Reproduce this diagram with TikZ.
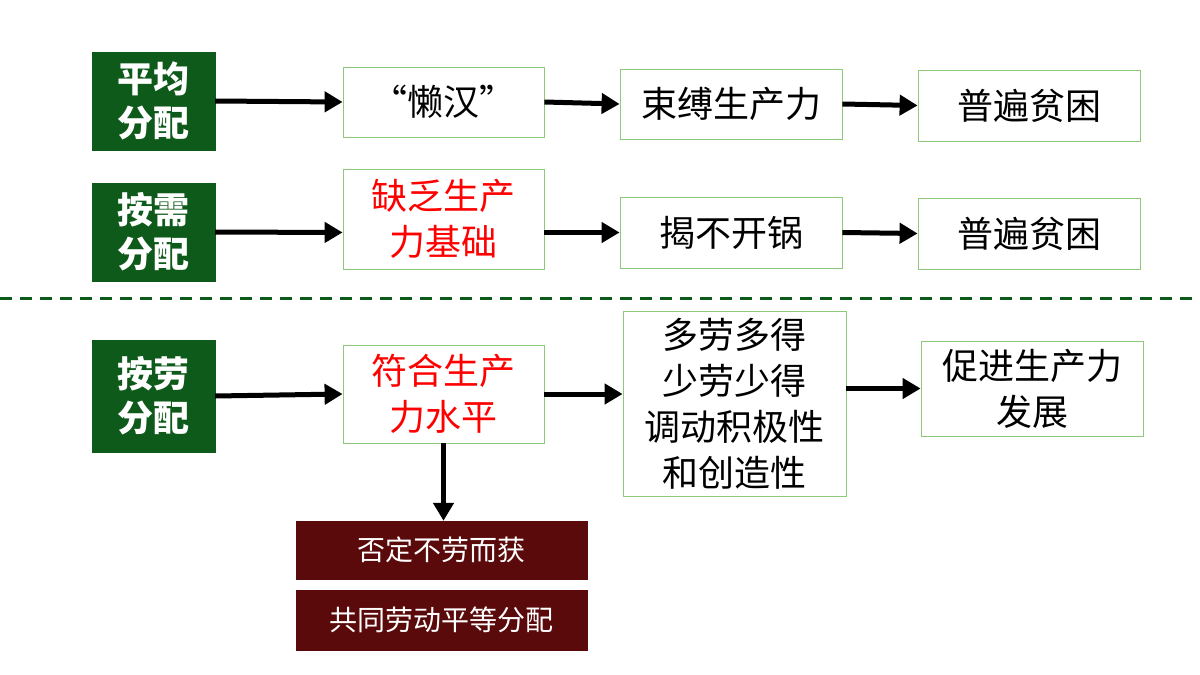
\documentclass[tikz,border=0pt]{standalone}
\usepackage{fontspec}
\setmainfont{Noto Sans CJK SC}
\usetikzlibrary{arrows.meta}
\definecolor{dg}{HTML}{0E5A1A}
\definecolor{lg}{HTML}{8CC97A}
\definecolor{dr}{HTML}{5A0A0A}
\begin{document}
\begin{tikzpicture}[x=1pt,y=-1pt,
 gbox/.style={draw=dg,fill=dg,text=white,font=\bfseries\fontsize{36}{44}\selectfont,align=center,inner sep=0},
 wbox/.style={draw=lg,line width=0.8pt,fill=white,font=\fontsize{36}{46}\selectfont,align=center,inner sep=0},
 rbox/.style={draw=dr,fill=dr,text=white,font=\fontsize{28}{32}\selectfont,inner sep=0},
 arr/.style={line width=5pt,-{Triangle[length=18pt,width=20pt]}}]
\useasboundingbox (0,0) rectangle (1200,675);
\newcommand\bx[6]{\node[#1,minimum width=#4-#2,minimum height=#5-#3] (#6) at ({(#2+#4)/2},{(#3+#5)/2}) {};}
\bx{gbox}{92}{52}{215}{150}{g1}\node[gbox] at (g1) {平均\\分配};
\bx{gbox}{92}{183}{215}{281}{g2}\node[gbox] at (g2) {按需\\分配};
\bx{gbox}{92}{340}{215}{452}{g3}\node[gbox] at (g3) {按劳\\分配};
\bx{wbox}{343}{67}{544}{137}{a1}\node[wbox,draw=none,fill=none] at (a1) {“懒汉”};
\bx{wbox}{620}{69}{842}{139}{a2}\node[wbox,draw=none,fill=none] at (a2) {束缚生产力};
\bx{wbox}{918}{70}{1140}{141}{a3}\node[wbox,draw=none,fill=none] at (a3) {普遍贫困};
\bx{wbox}{343}{169}{544}{269}{b1}\node[wbox,draw=none,fill=none,text=red] at (b1) {缺乏生产\\力基础};
\bx{wbox}{620}{197}{842}{268}{b2}\node[wbox,draw=none,fill=none] at (b2) {揭不开锅};
\bx{wbox}{918}{198}{1140}{269}{b3}\node[wbox,draw=none,fill=none] at (b3) {普遍贫困};
\bx{wbox}{343}{345}{544}{443}{c1}\node[wbox,draw=none,fill=none,text=red] at (c1) {符合生产\\力水平};
\bx{wbox}{623}{311}{846}{496}{c2}\node[wbox,draw=none,fill=none,font=\fontsize{36}{46}\selectfont] at (c2) {多劳多得\\少劳少得\\调动积极性\\和创造性};
\bx{wbox}{921}{341}{1143}{436}{c3}\node[wbox,draw=none,fill=none] at (c3) {促进生产力\\发展};
\bx{rbox}{296}{521}{587}{579}{d1}\node[rbox,fill=none] at (d1) {否定不劳而获};
\bx{rbox}{296}{590}{587}{650}{d2}\node[rbox,fill=none] at (d2) {共同劳动平等分配};
\coordinate (L) at (0,298); \coordinate (R) at (1200,298);
\draw[dg,line width=3pt,dash pattern=on 12pt off 8pt] (L) -- (R);
\draw[arr] (g1.east) -- (a1.west);
\draw[arr] (a1.east) -- (a2.west);
\draw[arr] (a2.east) -- (a3.west);
\draw[arr] (g2.east) -- (b2.west -| b1.west);
\draw[arr] (b1.east |- b2.west) -- (b2.west);
\draw[arr] (b2.east) -- (b3.west);
\draw[arr] (g3.east) -- (c1.west);
\draw[arr] (c1.east) -- (c2.west |- c1.east);
\draw[arr] (c2.east |- c3.west) -- (c3.west);
\draw[arr] (c1.south) -- (c1.south |- d1.north);
\end{tikzpicture}
\end{document}
